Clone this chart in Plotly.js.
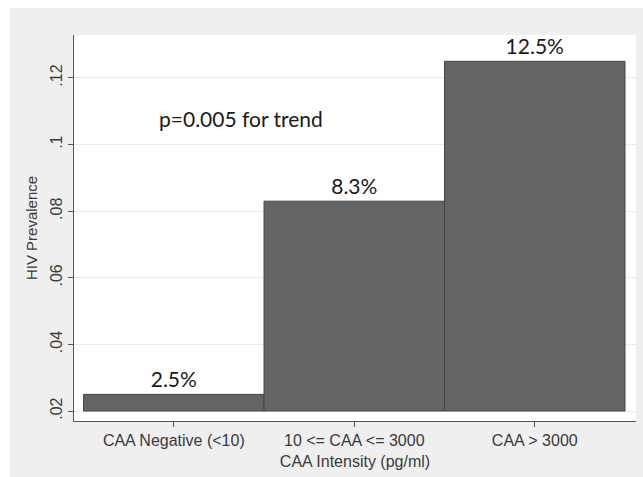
<!DOCTYPE html>
<html>
<head>
<meta charset="utf-8">
<script src="https://cdn.plot.ly/plotly-3.0.1.min.js"></script>
<style>
  html, body { margin: 0; padding: 0; background: #ffffff; width: 643px; height: 477px; overflow: hidden; }
  #chart { position: absolute; left: 10px; top: 8px; width: 633px; height: 469px; }
</style>
</head>
<body>
<div id="chart"></div>
<script>
const categories = ["CAA Negative (<10)", "10 <= CAA <= 3000", "CAA > 3000"];
const prevalence = [0.025, 0.083, 0.125];
const barLabels = ["2.5%", "8.3%", "12.5%"];
const yTickVals = [0.02, 0.04, 0.06, 0.08, 0.10, 0.12];
const yTickText = [".02", ".04", ".06", ".08", ".1", ".12"];
const baseValue = 0.02;
const annotationText = "p=0.005 for trend";

const tickFont = { family: "Liberation Sans, Arial, sans-serif", size: 16, color: "#3a3a3a" };
const yTitleFont = { family: "Liberation Sans, Arial, sans-serif", size: 15, color: "#3a3a3a" };

const trace = {
  type: "bar",
  x: [0, 1, 2],
  y: prevalence.map(v => v - baseValue),
  base: prevalence.map(() => baseValue),
  width: 1,
  text: barLabels,
  textposition: "outside",
  cliponaxis: false,
  textfont: { family: "Lato, sans-serif", size: 21, color: "#1a1a1a" },
  marker: { color: "#646464", line: { color: "#454545", width: 1 } },
  hoverinfo: "skip"
};

const layout = {
  width: 633, height: 469,
  margin: { l: 64, r: 7, t: 27, b: 56 },
  paper_bgcolor: "#efefef",
  plot_bgcolor: "#ffffff",
  showlegend: false,
  xaxis: {
    range: [-0.553, 2.561],
    tickvals: [0, 1, 2],
    ticktext: categories,
    ticks: "outside", ticklen: 5, tickcolor: "#555555", tickwidth: 1,
    showline: true, linecolor: "#555555", linewidth: 1,
    showgrid: false, zeroline: false,
    tickfont: tickFont,
    title: { text: "CAA Intensity (pg/ml)", font: tickFont, standoff: 7 }
  },
  yaxis: {
    range: [0.017, 0.1329],
    tickvals: yTickVals,
    ticktext: yTickText,
    tickangle: -90,
    ticks: "outside", ticklen: 5, tickcolor: "#555555", tickwidth: 1,
    showline: true, linecolor: "#555555", linewidth: 1,
    showgrid: true, gridcolor: "#ebebeb", gridwidth: 1,
    zeroline: false,
    tickfont: tickFont,
    title: { text: "HIV Prevalence", font: yTitleFont, standoff: 6 }
  },
  annotations: [{
    x: 0.37, y: 0.1077, xref: "x", yref: "y",
    text: annotationText, showarrow: false,
    font: { family: "Lato, sans-serif", size: 21, color: "#1a1a1a" }
  }]
};

Plotly.newPlot("chart", [trace], layout, { displayModeBar: false, staticPlot: true });
</script>
</body>
</html>
